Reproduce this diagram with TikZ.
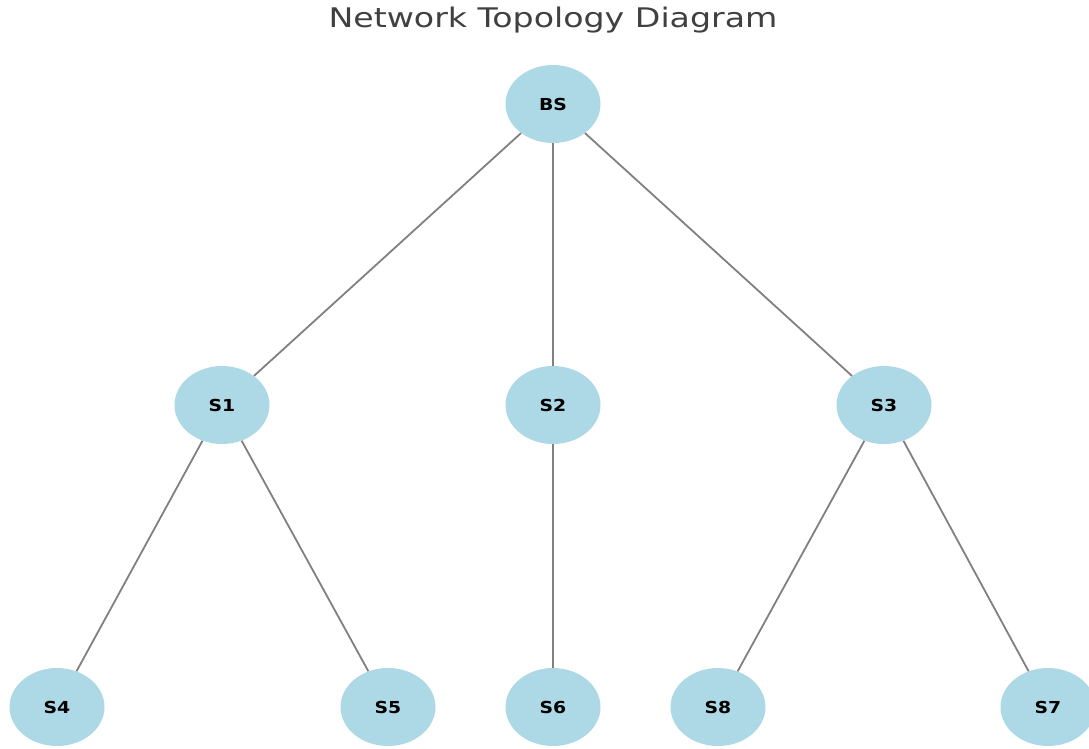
\documentclass[tikz,border=0pt]{standalone}
\usepackage{fontspec}
\usepackage{graphicx}
\setmainfont{DejaVu Sans}
\usetikzlibrary{shapes.geometric}
\definecolor{nodefill}{RGB}{173,216,230}
\definecolor{edgegray}{RGB}{128,128,128}
\definecolor{titlegray}{RGB}{64,64,64}
% text is set slightly widened
\newcommand{\wide}[2][1.23]{\scalebox{#1}[1]{#2}}
\tikzset{
  station/.style={ellipse, fill=nodefill, minimum width=95pt, minimum height=78pt, inner sep=0pt,
    font=\fontsize{16.5}{19}\selectfont\bfseries, text=black},
  link/.style={draw=edgegray, line width=1.8pt},
}
\begin{document}
\begin{tikzpicture}[x=1pt,y=-1pt]
  \useasboundingbox (0,0) rectangle (1089,748);
  \node[font=\fontsize{27}{32}\selectfont, text=titlegray] (title) at (553,20) {\wide{Network Topology Diagram}};
  % stations
  \node[station] (BS) at (553,104) {\wide[1.14]{BS}};
  \node[station] (S1) at (222,405) {\wide[1.14]{S1}};
  \node[station] (S2) at (553,405) {\wide[1.14]{S2}};
  \node[station] (S3) at (884,405) {\wide[1.14]{S3}};
  \node[station] (S4) at (57,707) {\wide[1.14]{S4}};
  \node[station] (S5) at (388,707) {\wide[1.14]{S5}};
  \node[station] (S6) at (553,707) {\wide[1.14]{S6}};
  \node[station] (S8) at (718,707) {\wide[1.14]{S8}};
  \node[station] (S7) at (1048,707) {\wide[1.14]{S7}};
  % links
  \draw[link] (BS) -- (S1);
  \draw[link] (BS) -- (S2);
  \draw[link] (BS) -- (S3);
  \draw[link] (S1) -- (S4);
  \draw[link] (S1) -- (S5);
  \draw[link] (S2) -- (S6);
  \draw[link] (S3) -- (S8);
  \draw[link] (S3) -- (S7);
\end{tikzpicture}
\end{document}
